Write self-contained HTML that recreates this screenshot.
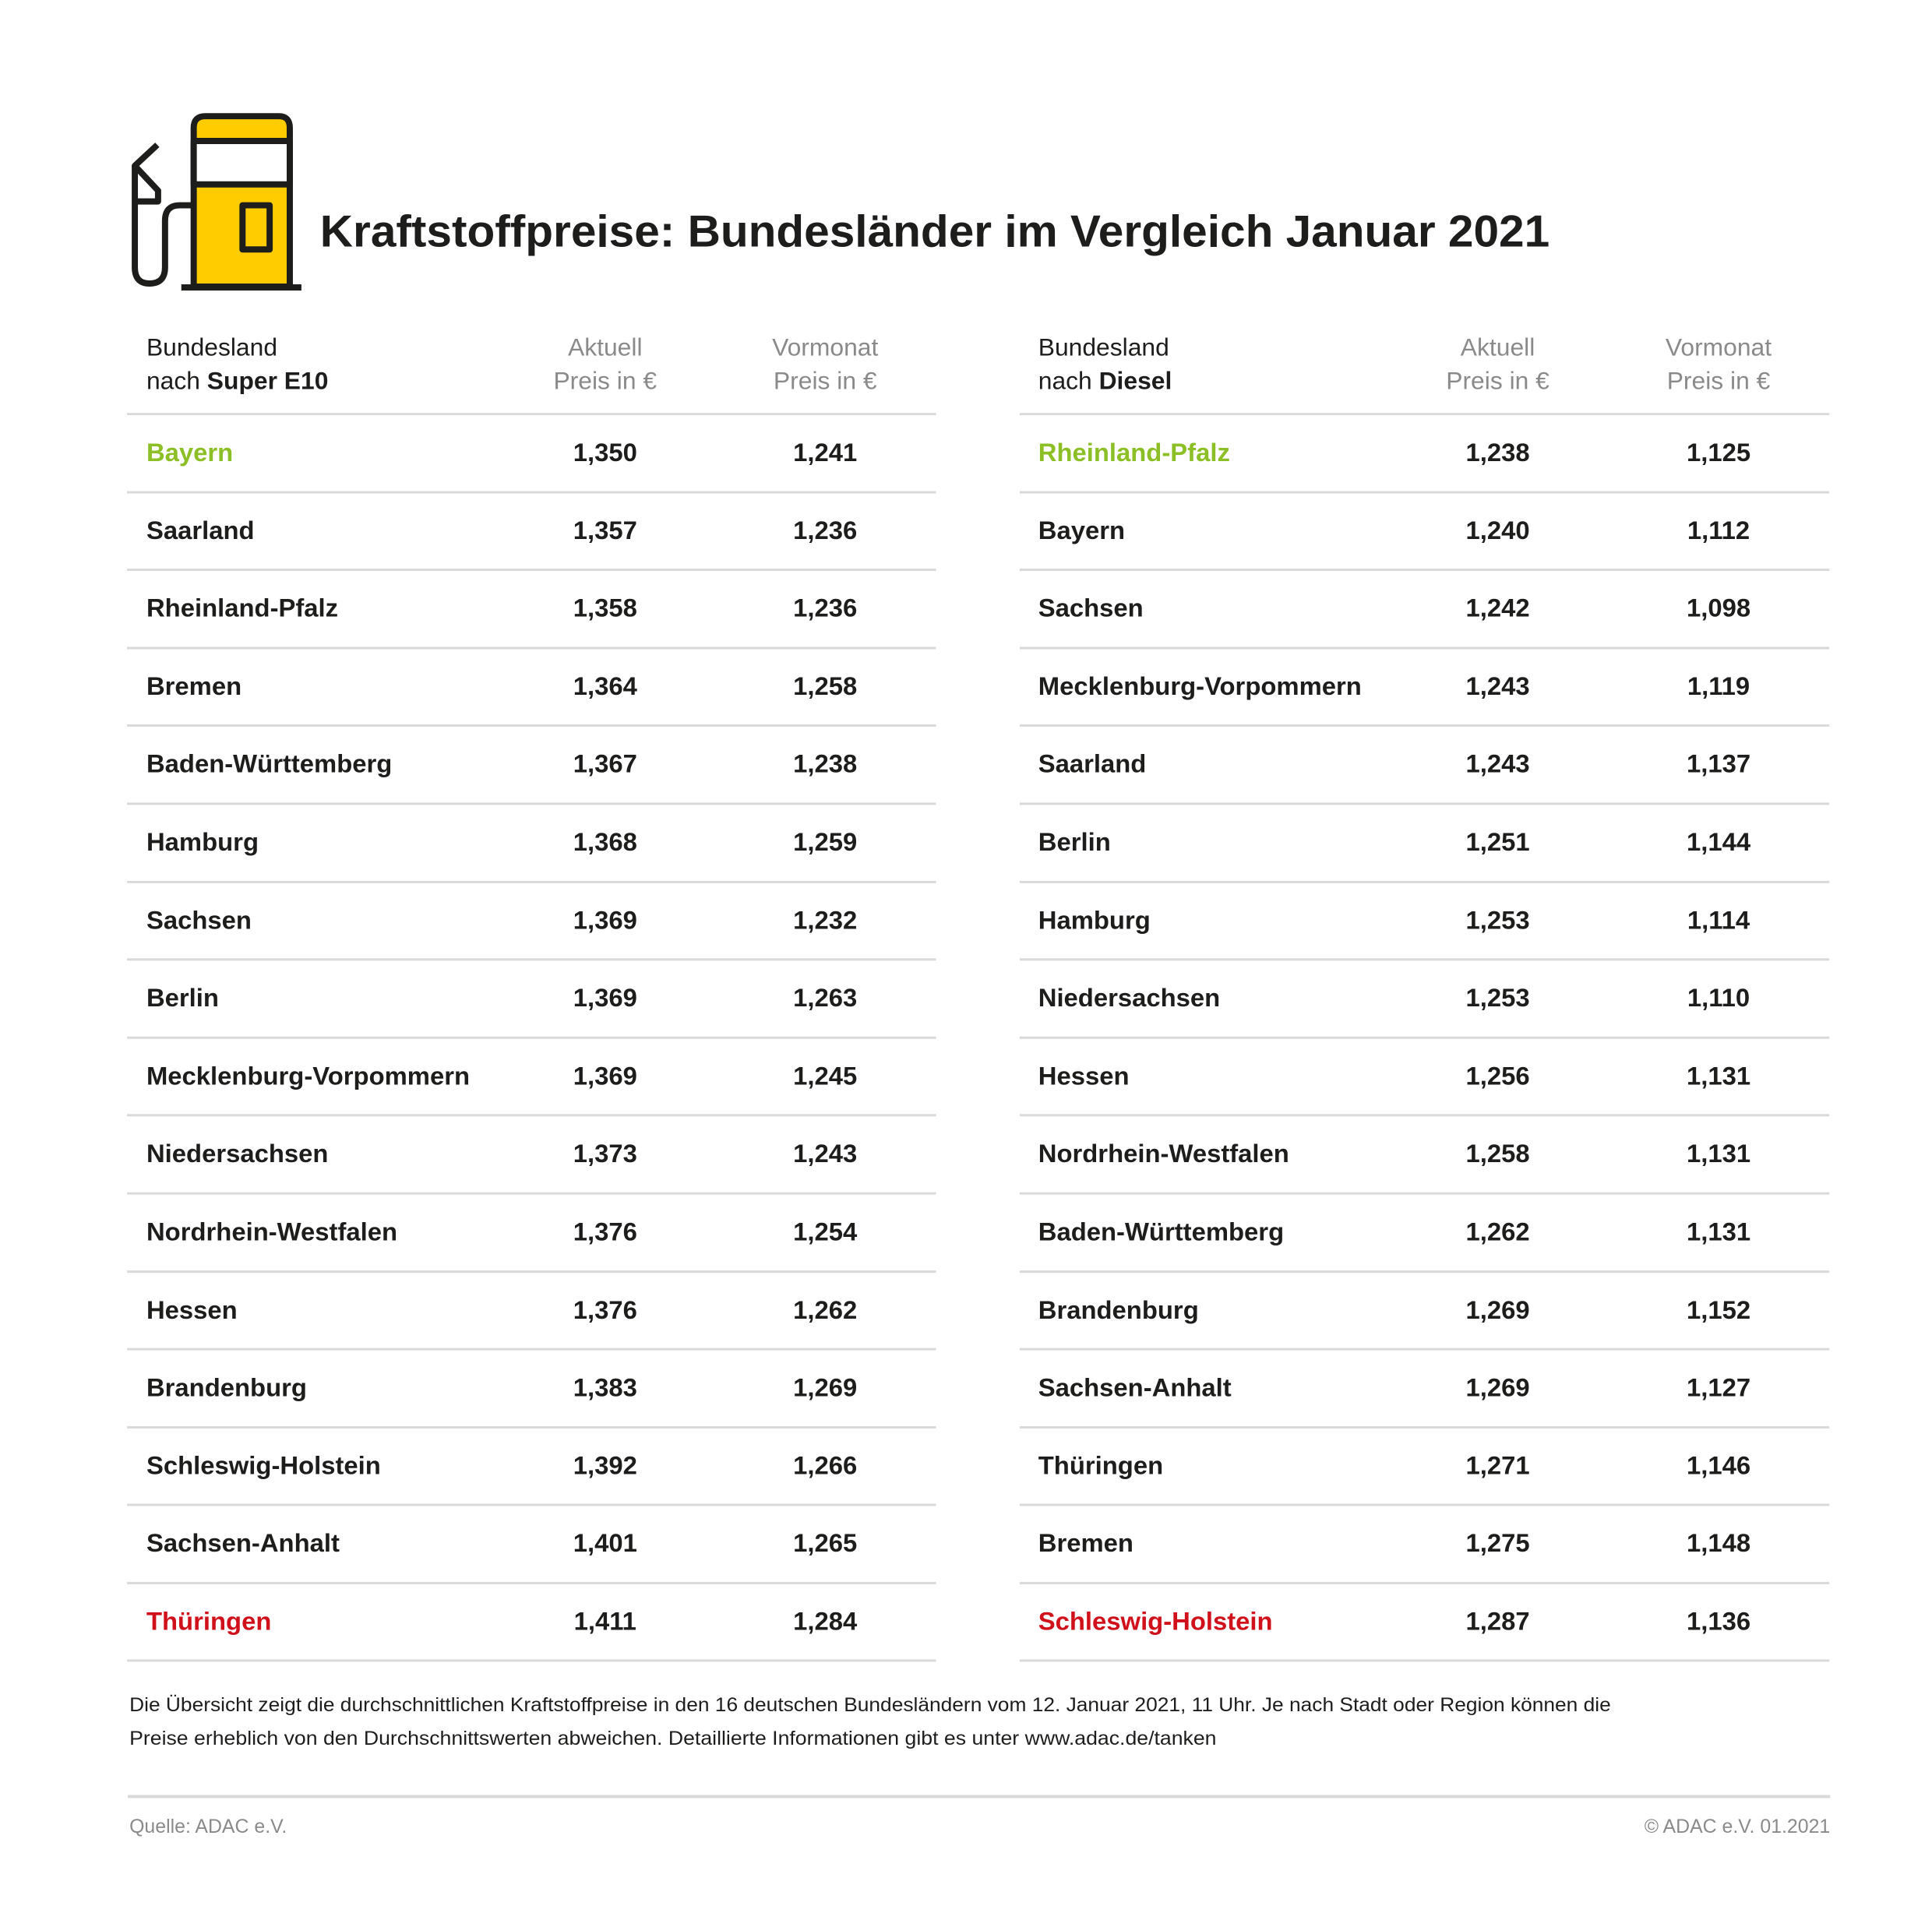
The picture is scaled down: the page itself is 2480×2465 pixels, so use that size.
<!DOCTYPE html>
<html><head><meta charset="utf-8"><style>
html,body{margin:0;padding:0;background:#fff}
svg{display:block}
text{font-family:"Liberation Sans",sans-serif}
.b{font-weight:bold;font-size:33px;fill:#1d1d1b}
.h{font-size:32px;fill:#1d1d1b}
.g{font-size:32px;fill:#8a8a8a}
</style></head><body>
<svg width="2480" height="2465" viewBox="0 0 2480 2465" xmlns="http://www.w3.org/2000/svg">
<rect width="2480" height="2465" fill="#fff"/>
<g transform="scale(0.9946)">
<!-- icon -->
<g stroke="#1d1d1b" stroke-width="8" fill="none" stroke-linejoin="round">
<path d="M250 370 V165 Q250 150 265 150 H360 Q374 150 374 165 V370 Z" fill="#ffcc00"/>
<rect x="250" y="182" width="124" height="56" fill="#fff"/>
<rect x="313" y="265" width="35" height="57" fill="none"/>
<path d="M203 187 L174 214 L204 246 V260 H174"/>
<path d="M174 214 V345 Q174 366 193 366 Q213 366 213 345 V285 Q213 265 232 265 H250"/>
</g>
<rect x="234" y="367" width="155" height="8" fill="#1d1d1b"/>
<text x="413" y="318" font-weight="bold" font-size="58" fill="#1d1d1b" textLength="1587" lengthAdjust="spacingAndGlyphs">Kraftstoffpreise: Bundesländer im Vergleich Januar 2021</text>

<!-- headers -->
<text x="189" y="459" class="h">Bundesland</text>
<text x="189" y="502" class="h">nach <tspan font-weight="bold">Super E10</tspan></text>
<text x="781" y="459" class="g" text-anchor="middle">Aktuell</text>
<text x="781" y="502" class="g" text-anchor="middle">Preis in €</text>
<text x="1065" y="459" class="g" text-anchor="middle">Vormonat</text>
<text x="1065" y="502" class="g" text-anchor="middle">Preis in €</text>
<text x="1340" y="459" class="h">Bundesland</text>
<text x="1340" y="502" class="h">nach <tspan font-weight="bold">Diesel</tspan></text>
<text x="1933" y="459" class="g" text-anchor="middle">Aktuell</text>
<text x="1933" y="502" class="g" text-anchor="middle">Preis in €</text>
<text x="2218" y="459" class="g" text-anchor="middle">Vormonat</text>
<text x="2218" y="502" class="g" text-anchor="middle">Preis in €</text>

<g fill="#d9d9d9">
<rect x="164" y="533" width="1044" height="3"/><rect x="1316" y="533" width="1045" height="3"/>
<rect x="164" y="634" width="1044" height="3"/><rect x="1316" y="634" width="1045" height="3"/>
<rect x="164" y="734" width="1044" height="3"/><rect x="1316" y="734" width="1045" height="3"/>
<rect x="164" y="835" width="1044" height="3"/><rect x="1316" y="835" width="1045" height="3"/>
<rect x="164" y="935" width="1044" height="3"/><rect x="1316" y="935" width="1045" height="3"/>
<rect x="164" y="1036" width="1044" height="3"/><rect x="1316" y="1036" width="1045" height="3"/>
<rect x="164" y="1137" width="1044" height="3"/><rect x="1316" y="1137" width="1045" height="3"/>
<rect x="164" y="1237" width="1044" height="3"/><rect x="1316" y="1237" width="1045" height="3"/>
<rect x="164" y="1338" width="1044" height="3"/><rect x="1316" y="1338" width="1045" height="3"/>
<rect x="164" y="1438" width="1044" height="3"/><rect x="1316" y="1438" width="1045" height="3"/>
<rect x="164" y="1539" width="1044" height="3"/><rect x="1316" y="1539" width="1045" height="3"/>
<rect x="164" y="1640" width="1044" height="3"/><rect x="1316" y="1640" width="1045" height="3"/>
<rect x="164" y="1740" width="1044" height="3"/><rect x="1316" y="1740" width="1045" height="3"/>
<rect x="164" y="1841" width="1044" height="3"/><rect x="1316" y="1841" width="1045" height="3"/>
<rect x="164" y="1941" width="1044" height="3"/><rect x="1316" y="1941" width="1045" height="3"/>
<rect x="164" y="2042" width="1044" height="3"/><rect x="1316" y="2042" width="1045" height="3"/>
<rect x="164" y="2142" width="1044" height="3"/><rect x="1316" y="2142" width="1045" height="3"/>
<rect x="165" y="2317" width="2197" height="4"/>
</g>

<g class="b">
<text x="189" y="595" class="b" style="fill:#8cbf26">Bayern</text><text x="781" y="595" class="b" text-anchor="middle">1,350</text><text x="1065" y="595" class="b" text-anchor="middle">1,241</text>
<text x="1340" y="595" class="b" style="fill:#8cbf26">Rheinland-Pfalz</text><text x="1933" y="595" class="b" text-anchor="middle">1,238</text><text x="2218" y="595" class="b" text-anchor="middle">1,125</text>

<text x="189" y="696" class="b">Saarland</text><text x="781" y="696" class="b" text-anchor="middle">1,357</text><text x="1065" y="696" class="b" text-anchor="middle">1,236</text>
<text x="1340" y="696" class="b">Bayern</text><text x="1933" y="696" class="b" text-anchor="middle">1,240</text><text x="2218" y="696" class="b" text-anchor="middle">1,112</text>

<text x="189" y="796" class="b">Rheinland-Pfalz</text><text x="781" y="796" class="b" text-anchor="middle">1,358</text><text x="1065" y="796" class="b" text-anchor="middle">1,236</text>
<text x="1340" y="796" class="b">Sachsen</text><text x="1933" y="796" class="b" text-anchor="middle">1,242</text><text x="2218" y="796" class="b" text-anchor="middle">1,098</text>

<text x="189" y="897" class="b">Bremen</text><text x="781" y="897" class="b" text-anchor="middle">1,364</text><text x="1065" y="897" class="b" text-anchor="middle">1,258</text>
<text x="1340" y="897" class="b">Mecklenburg-Vorpommern</text><text x="1933" y="897" class="b" text-anchor="middle">1,243</text><text x="2218" y="897" class="b" text-anchor="middle">1,119</text>

<text x="189" y="997" class="b">Baden-Württemberg</text><text x="781" y="997" class="b" text-anchor="middle">1,367</text><text x="1065" y="997" class="b" text-anchor="middle">1,238</text>
<text x="1340" y="997" class="b">Saarland</text><text x="1933" y="997" class="b" text-anchor="middle">1,243</text><text x="2218" y="997" class="b" text-anchor="middle">1,137</text>

<text x="189" y="1098" class="b">Hamburg</text><text x="781" y="1098" class="b" text-anchor="middle">1,368</text><text x="1065" y="1098" class="b" text-anchor="middle">1,259</text>
<text x="1340" y="1098" class="b">Berlin</text><text x="1933" y="1098" class="b" text-anchor="middle">1,251</text><text x="2218" y="1098" class="b" text-anchor="middle">1,144</text>

<text x="189" y="1199" class="b">Sachsen</text><text x="781" y="1199" class="b" text-anchor="middle">1,369</text><text x="1065" y="1199" class="b" text-anchor="middle">1,232</text>
<text x="1340" y="1199" class="b">Hamburg</text><text x="1933" y="1199" class="b" text-anchor="middle">1,253</text><text x="2218" y="1199" class="b" text-anchor="middle">1,114</text>

<text x="189" y="1299" class="b">Berlin</text><text x="781" y="1299" class="b" text-anchor="middle">1,369</text><text x="1065" y="1299" class="b" text-anchor="middle">1,263</text>
<text x="1340" y="1299" class="b">Niedersachsen</text><text x="1933" y="1299" class="b" text-anchor="middle">1,253</text><text x="2218" y="1299" class="b" text-anchor="middle">1,110</text>

<text x="189" y="1400" class="b">Mecklenburg-Vorpommern</text><text x="781" y="1400" class="b" text-anchor="middle">1,369</text><text x="1065" y="1400" class="b" text-anchor="middle">1,245</text>
<text x="1340" y="1400" class="b">Hessen</text><text x="1933" y="1400" class="b" text-anchor="middle">1,256</text><text x="2218" y="1400" class="b" text-anchor="middle">1,131</text>

<text x="189" y="1500" class="b">Niedersachsen</text><text x="781" y="1500" class="b" text-anchor="middle">1,373</text><text x="1065" y="1500" class="b" text-anchor="middle">1,243</text>
<text x="1340" y="1500" class="b">Nordrhein-Westfalen</text><text x="1933" y="1500" class="b" text-anchor="middle">1,258</text><text x="2218" y="1500" class="b" text-anchor="middle">1,131</text>

<text x="189" y="1601" class="b">Nordrhein-Westfalen</text><text x="781" y="1601" class="b" text-anchor="middle">1,376</text><text x="1065" y="1601" class="b" text-anchor="middle">1,254</text>
<text x="1340" y="1601" class="b">Baden-Württemberg</text><text x="1933" y="1601" class="b" text-anchor="middle">1,262</text><text x="2218" y="1601" class="b" text-anchor="middle">1,131</text>

<text x="189" y="1702" class="b">Hessen</text><text x="781" y="1702" class="b" text-anchor="middle">1,376</text><text x="1065" y="1702" class="b" text-anchor="middle">1,262</text>
<text x="1340" y="1702" class="b">Brandenburg</text><text x="1933" y="1702" class="b" text-anchor="middle">1,269</text><text x="2218" y="1702" class="b" text-anchor="middle">1,152</text>

<text x="189" y="1802" class="b">Brandenburg</text><text x="781" y="1802" class="b" text-anchor="middle">1,383</text><text x="1065" y="1802" class="b" text-anchor="middle">1,269</text>
<text x="1340" y="1802" class="b">Sachsen-Anhalt</text><text x="1933" y="1802" class="b" text-anchor="middle">1,269</text><text x="2218" y="1802" class="b" text-anchor="middle">1,127</text>

<text x="189" y="1903" class="b">Schleswig-Holstein</text><text x="781" y="1903" class="b" text-anchor="middle">1,392</text><text x="1065" y="1903" class="b" text-anchor="middle">1,266</text>
<text x="1340" y="1903" class="b">Thüringen</text><text x="1933" y="1903" class="b" text-anchor="middle">1,271</text><text x="2218" y="1903" class="b" text-anchor="middle">1,146</text>

<text x="189" y="2003" class="b">Sachsen-Anhalt</text><text x="781" y="2003" class="b" text-anchor="middle">1,401</text><text x="1065" y="2003" class="b" text-anchor="middle">1,265</text>
<text x="1340" y="2003" class="b">Bremen</text><text x="1933" y="2003" class="b" text-anchor="middle">1,275</text><text x="2218" y="2003" class="b" text-anchor="middle">1,148</text>

<text x="189" y="2104" class="b" style="fill:#d0111b">Thüringen</text><text x="781" y="2104" class="b" text-anchor="middle">1,411</text><text x="1065" y="2104" class="b" text-anchor="middle">1,284</text>
<text x="1340" y="2104" class="b" style="fill:#d0111b">Schleswig-Holstein</text><text x="1933" y="2104" class="b" text-anchor="middle">1,287</text><text x="2218" y="2104" class="b" text-anchor="middle">1,136</text>
</g>

<text x="167" y="2209" font-size="25" fill="#1d1d1b" textLength="1912" lengthAdjust="spacingAndGlyphs">Die Übersicht zeigt die durchschnittlichen Kraftstoffpreise in den 16 deutschen Bundesländern vom 12. Januar 2021, 11 Uhr. Je nach Stadt oder Region können die</text>
<text x="167" y="2252" font-size="25" fill="#1d1d1b" textLength="1403" lengthAdjust="spacingAndGlyphs">Preise erheblich von den Durchschnittswerten abweichen. Detaillierte Informationen gibt es unter www.adac.de/tanken</text>
<text x="167" y="2366" font-size="25" fill="#8a8a8a">Quelle: ADAC e.V.</text>
<text x="2362" y="2366" font-size="25" fill="#8a8a8a" text-anchor="end">© ADAC e.V. 01.2021</text>
</g>
</svg>
</body></html>
